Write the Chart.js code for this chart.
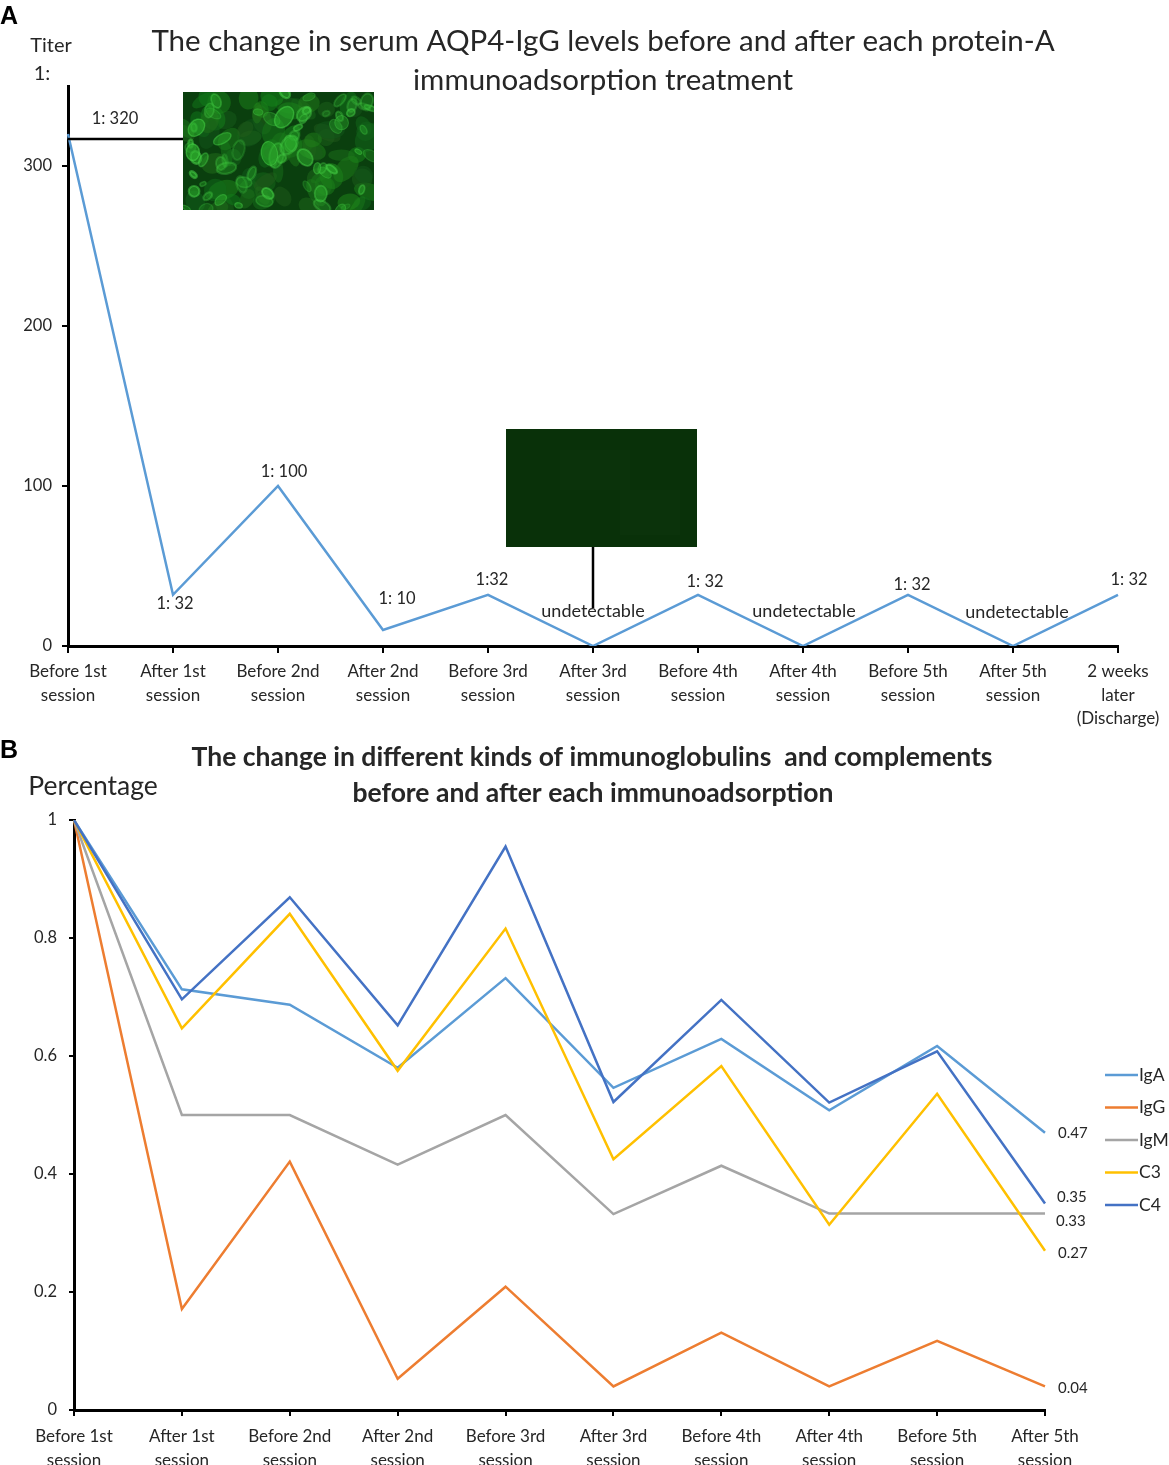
<!DOCTYPE html>
<html><head><meta charset="utf-8">
<script src="https://cdn.jsdelivr.net/npm/chart.js@4.4.1/dist/chart.umd.min.js"></script>
<style>
html,body{margin:0;padding:0;background:#fff;}
#wrapA{position:absolute;left:0;top:0;width:1169px;height:735px;}
#wrapB{position:absolute;left:0;top:735px;width:1169px;height:730px;}
</style></head><body>
<div id="wrapA"><canvas id="cA"></canvas></div>
<div id="wrapB"><canvas id="cB"></canvas></div>
<script>
// ---------- DATA ----------
const categoriesA = [['Before 1st','session'],['After 1st','session'],['Before 2nd','session'],['After 2nd','session'],['Before 3rd','session'],['After 3rd','session'],['Before 4th','session'],['After 4th','session'],['Before 5th','session'],['After 5th','session'],['2 weeks','later','(Discharge)']];
const titerA = [320, 32, 100, 10, 32, 0, 32, 0, 32, 0, 32];
const titerLabelsA = ['1: 320','1: 32','1: 100','1: 10','1:32','undetectable','1: 32','undetectable','1: 32','undetectable','1: 32'];
const yTicksA = [0, 100, 200, 300];

const categoriesB = [['Before 1st','session'],['After 1st','session'],['Before 2nd','session'],['After 2nd','session'],['Before 3rd','session'],['After 3rd','session'],['Before 4th','session'],['After 4th','session'],['Before 5th','session'],['After 5th','session']];
const seriesNamesB = ['IgA','IgG','IgM','C3','C4'];
const IgA = [1, 0.713, 0.687, 0.580, 0.732, 0.546, 0.629, 0.508, 0.617, 0.47];
const IgG = [1, 0.171, 0.421, 0.053, 0.209, 0.04, 0.131, 0.04, 0.117, 0.04];
const IgM = [1, 0.50, 0.50, 0.416, 0.50, 0.332, 0.414, 0.333, 0.333, 0.333];
const C3  = [1, 0.647, 0.841, 0.575, 0.816, 0.425, 0.583, 0.314, 0.536, 0.27];
const C4  = [1, 0.696, 0.869, 0.652, 0.955, 0.522, 0.695, 0.521, 0.608, 0.35];
const endLabelsB = ['0.47','0.04','0.33','0.27','0.35'];

// ---------- STYLE ----------
const FONT = 'Lato, "Open Sans", sans-serif';
const TXT = '#262626';
const colorsB = ['#5B9BD5','#ED7D31','#A5A5A5','#FFC000','#4472C4'];
const labelOffsetsA = [[47,-15],[2,9],[6,-14],[14,-31],[4,-15],[0,-35],[7,-13],[1,-35],[4,-10],[4,-34],[11,-15]];
const endOffsetsB = [[13,0],[13,2],[11,8],[13,2],[12,-6]];

function hash(n){ const x = Math.sin(n*127.1+311.7)*43758.5453; return x - Math.floor(x); }

const decorA = {
  id:'decorA',
  afterDraw(chart){
    const ctx = chart.ctx, xs = chart.scales.x, ys = chart.scales.y;
    ctx.save();
    ctx.textBaseline='middle';
    ctx.font = 'bold 25px "Liberation Sans", Arial, sans-serif';
    ctx.textAlign='left'; ctx.fillStyle='#000';
    ctx.fillText('A', 0, 17);
    ctx.fillStyle = TXT; ctx.textAlign='center';
    ctx.font = '29.5px ' + FONT;
    ctx.fillText('The change in serum AQP4-IgG levels before and after each protein-A', 603, 41);
    ctx.fillText('immunoadsorption treatment', 603, 80);
    ctx.font = '20px ' + FONT;
    ctx.fillText('Titer', 51, 46);
    ctx.fillText('1:', 42, 74);
    // point labels
    titerA.forEach((v,i)=>{
      ctx.font = (titerLabelsA[i]==='undetectable' ? '18px ' : '16.5px ') + FONT;
      const px = xs.getPixelForValue(i), py = ys.getPixelForValue(v);
      ctx.fillText(titerLabelsA[i], px + labelOffsetsA[i][0], py + labelOffsetsA[i][1]);
    });
    // image 1 (fluorescence)
    const x0=183,y0=92,w=191,h=118;
    ctx.save();
    ctx.beginPath(); ctx.rect(x0,y0,w,h); ctx.clip();
    ctx.fillStyle='#0a3f0e'; ctx.fillRect(x0,y0,w,h);
    for(let i=0;i<80;i++){
      ctx.fillStyle='rgba('+(15+hash(i+7000)*20|0)+','+(85+hash(i+7100)*55|0)+',25,0.5)';
      ctx.beginPath();
      ctx.ellipse(x0+hash(i+2000)*w, y0+hash(i+3000)*h, 7+hash(i+4000)*9, 5+hash(i+5000)*7, hash(i+6000)*3, 0, Math.PI*2);
      ctx.fill();
    }
    for(let i=0;i<70;i++){
      const cx=x0+hash(i)*w, cy=y0+hash(i+500)*h, r=3+hash(i+900)*5;
      const a = 0.3+hash(i+1300)*0.6;
      ctx.fillStyle='rgba(45,175,45,'+(a*0.7)+')';
      ctx.strokeStyle='rgba(75,215,75,'+(a*0.6)+')';
      ctx.lineWidth=1+hash(i+1700)*1.5;
      ctx.beginPath(); ctx.ellipse(cx,cy,r*(1+hash(i+2300)*0.6),r*(0.6+hash(i+1900)*0.5),hash(i+2100)*3,0,Math.PI*2);
      ctx.fill(); ctx.stroke();
    }
    ctx.restore();
    // image 2 (negative)
    ctx.fillStyle='#093109'; ctx.fillRect(506,429,191,118);
    ctx.fillStyle='rgba(20,60,20,0.18)';
    ctx.fillRect(560,450,70,40); ctx.fillRect(620,490,60,45);
    // connectors
    ctx.strokeStyle='#000'; ctx.lineWidth=2.5;
    const lx = xs.getPixelForValue(0), ly = ys.getPixelForValue(titerA[0]) + 5;
    ctx.beginPath(); ctx.moveTo(lx, ly); ctx.lineTo(x0, ly); ctx.stroke();
    const vx = xs.getPixelForValue(5);
    ctx.beginPath(); ctx.moveTo(vx, 547); ctx.lineTo(vx, ys.getPixelForValue(0) - 38); ctx.stroke();
    ctx.restore();
  }
};

const decorB = {
  id:'decorB',
  afterDraw(chart){
    const ctx = chart.ctx, xs = chart.scales.x, ys = chart.scales.y;
    ctx.save();
    ctx.textBaseline='middle';
    ctx.font = 'bold 25px "Liberation Sans", Arial, sans-serif';
    ctx.fillStyle='#000'; ctx.textAlign='left';
    ctx.fillText('B', 0, 16);
    ctx.fillStyle = TXT; ctx.textAlign='center';
    ctx.font = 'bold 26.5px ' + FONT;
    ctx.fillText('The change in different kinds of immunoglobulins  and complements', 592, 22);
    ctx.fillText('before and after each immunoadsorption', 593, 58);
    ctx.font = '26.5px ' + FONT;
    ctx.fillText('Percentage', 93, 51);
    // end labels
    ctx.font = '15px ' + FONT; ctx.textAlign='left';
    const last = categoriesB.length - 1;
    chart.data.datasets.forEach((ds,i)=>{
      const px = xs.getPixelForValue(last), py = ys.getPixelForValue(ds.data[last]);
      ctx.fillText(endLabelsB[i], px + endOffsetsB[i][0], py + endOffsetsB[i][1]);
    });
    // legend
    ctx.font = '17.5px ' + FONT;
    chart.data.datasets.forEach((ds,i)=>{
      const y = 340 + i*32.5;
      ctx.strokeStyle = ds.borderColor; ctx.lineWidth = 2.5;
      ctx.beginPath(); ctx.moveTo(1105, y); ctx.lineTo(1138, y); ctx.stroke();
      ctx.fillStyle = TXT;
      ctx.fillText(ds.label, 1139, y);
    });
    ctx.restore();
  }
};

new Chart(document.getElementById('cA'), {
  type:'line',
  data:{labels:categoriesA, datasets:[{label:'Titer', data:titerA, borderColor:'#5B9BD5', borderWidth:2.5, pointRadius:0, tension:0, fill:false}]},
  options:{
    responsive:true, maintainAspectRatio:false, animation:false,
    layout:{padding:{top:86, right:51, left:0, bottom:0}},
    plugins:{legend:{display:false}, tooltip:{enabled:false}, title:{display:false}},
    scales:{
      x:{
        offset:false,
        border:{display:true, color:'#000', width:3},
        grid:{display:true, drawOnChartArea:false, drawTicks:true, tickLength:7, color:'#000', lineWidth:2},
        ticks:{font:{family:FONT,size:17,lineHeight:1.38}, color:TXT, maxRotation:0, minRotation:0, autoSkip:false, padding:7},
        afterFit(s){ s.height = 89; }
      },
      y:{
        min:0, max:350,
        border:{display:true, color:'#000', width:3},
        grid:{display:true, drawOnChartArea:false, drawTicks:true, tickLength:6, color:'#000', lineWidth:2},
        ticks:{stepSize:100, font:{family:FONT,size:16.5}, color:TXT, padding:10},
        afterBuildTicks(s){ s.ticks = yTicksA.map(v=>({value:v})); },
        afterFit(s){ s.width = 68; }
      }
    }
  },
  plugins:[decorA]
});

new Chart(document.getElementById('cB'), {
  type:'line',
  data:{labels:categoriesB, datasets:[IgA,IgG,IgM,C3,C4].map((d,i)=>({
    label:seriesNamesB[i], data:d, borderColor:colorsB[i], borderWidth:2.5, pointRadius:0, tension:0, fill:false, order:5-i
  }))},
  options:{
    responsive:true, maintainAspectRatio:false, animation:false,
    layout:{padding:{top:85, right:124, left:0, bottom:0}},
    plugins:{legend:{display:false}, tooltip:{enabled:false}, title:{display:false}},
    scales:{
      x:{
        offset:false,
        border:{display:true, color:'#000', width:3},
        grid:{display:true, drawOnChartArea:false, drawTicks:true, tickLength:6, color:'#000', lineWidth:2},
        ticks:{font:{family:FONT,size:17,lineHeight:1.38}, color:TXT, maxRotation:0, minRotation:0, autoSkip:false, padding:9},
        afterFit(s){ s.height = 55; }
      },
      y:{
        min:0, max:1,
        border:{display:true, color:'#000', width:3},
        grid:{display:true, drawOnChartArea:false, drawTicks:true, tickLength:5, color:'#000', lineWidth:2},
        ticks:{stepSize:0.2, font:{family:FONT,size:16.5}, color:TXT, padding:12,
          callback:(v)=>String(Math.round(v*10)/10)},
        afterFit(s){ s.width = 74; }
      }
    }
  },
  plugins:[decorB]
});
</script>
</body></html>
